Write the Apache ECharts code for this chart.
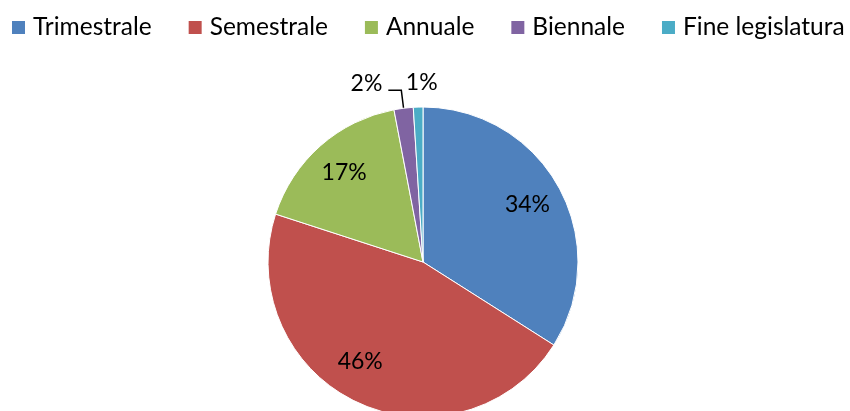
<!DOCTYPE html>
<html>
<head>
<meta charset="utf-8">
<script src="https://cdn.jsdelivr.net/npm/echarts@6/dist/echarts.min.js"></script>
<style>
  html, body { margin: 0; padding: 0; background: #fff; }
  #chart { width: 850px; height: 411px; }
</style>
</head>
<body>
<div id="chart"></div>
<script>
// Frequenza delle rilevazioni (quote percentuali)
const categories = ['Trimestrale', 'Semestrale', 'Annuale', 'Biennale', 'Fine legislatura'];
const values = [34, 46, 17, 2, 1];
const colors = ['#4F81BD', '#C0504D', '#9BBB59', '#8064A2', '#4BACC6'];

const FONT = 'Lato';
const CENTER = [423, 262];
const R = 155;

const chart = echarts.init(document.getElementById('chart'));

// Outside label text sits above the end of its leader line
const raisedLabel = {
  show: true,
  formatter: '{d}%\n{s|}',
  rich: { s: { height: 14 } }
};

// Main slices; only the two thin slices carry outside labels
const mainData = categories.map((name, i) => {
  const item = { name, value: values[i], itemStyle: { color: colors[i] } };
  if (i < 3) {
    item.label = { show: false };
    item.labelLine = { show: false };
  } else if (i === 3) {
    item.label = raisedLabel;
    item.labelLine = { show: true, length: 18, length2: 13 };
  } else {
    item.label = raisedLabel;
    item.labelLine = { show: false, length: 18, length2: 0 };
  }
  return item;
});

// Transparent ring used to place the inner labels further out along the slice
const ringData = categories.map((name, i) => ({
  name,
  value: values[i],
  label: { show: i < 3 }
}));

chart.setOption({
  animation: false,
  legend: {
    left: 10,
    top: 15,
    width: 840,
    padding: 0,
    itemWidth: 15,
    itemHeight: 15,
    itemGap: 35,
    icon: 'rect',
    data: categories,
    textStyle: { fontFamily: FONT, fontSize: 24.5, color: '#000', padding: [0, 0, 0, 2] },
    selectedMode: false
  },
  series: [
    {
      type: 'pie',
      center: CENTER,
      radius: R,
      startAngle: 90,
      clockwise: true,
      avoidLabelOverlap: false,
      silent: true,
      itemStyle: { borderColor: '#fff', borderWidth: 1 },
      label: {
        position: 'outside',
        fontFamily: FONT,
        fontSize: 23,
        color: '#000',
        distanceToLabelLine: 6
      },
      labelLine: { lineStyle: { color: '#000', width: 1.5 }, smooth: false },
      labelLayout: function (params) {
        if (params.dataIndex === 4) return { dx: 26 };
        return {};
      },
      data: mainData
    },
    {
      type: 'pie',
      center: CENTER,
      radius: [R / 2, R],
      startAngle: 90,
      clockwise: true,
      silent: true,
      z: 3,
      itemStyle: { color: 'rgba(0,0,0,0)' },
      label: {
        position: 'inside',
        formatter: '{d}%',
        fontFamily: FONT,
        fontSize: 23,
        color: '#000'
      },
      labelLine: { show: false },
      labelLayout: function (params) {
        if (params.dataIndex === 1) return { dx: -12, dy: -8 };
        return {};
      },
      data: ringData
    }
  ]
});
</script>
</body>
</html>
